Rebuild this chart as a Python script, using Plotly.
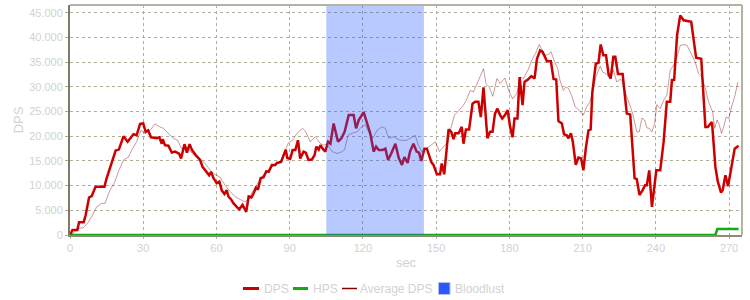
import plotly.graph_objects as go

# ---- data ----
dps_t = [0, 1, 3, 3.7, 5.6, 6.4, 7.8, 8.9, 10.5, 14.1, 15, 17, 18.7, 20, 21.9, 23.6, 26, 27.3, 28.7, 30,
         31, 32, 33.2, 35.5, 36.6, 37.6, 38, 38.9, 40.3, 41.7, 43, 44.7, 45.5, 46.9, 47.9, 49, 50, 51.5,
         52.6, 53.3, 54.3, 56.1, 57, 57.8, 58.8, 60.1, 61.2, 62.2, 63.3, 64.2, 64.9, 66, 67, 68.3, 69.3,
         70.7, 72.2, 73.2, 74.3, 75.2, 76.2, 77, 78.1, 79.3, 80.4, 81.4, 82.7, 84.1, 84.8, 86.5, 87.5,
         88.4, 89, 90.2, 91.2, 92.3, 93.4, 94.3, 95.7, 96.6, 97.7, 99.1, 100.2, 100.9, 101.9, 102.6,
         103.5, 104.6, 105.7, 106.7, 108, 109, 109.8, 111.2, 112.5, 114.2, 116.2, 117.2, 118.3, 120.3,
         121.7, 123, 124.4, 125.4, 126.5, 128.1, 129.2, 130.3, 131.6, 133.3, 134.7, 136, 137, 138.3,
         139.3, 140.7, 142, 143, 143.9, 145.2, 146.2, 148, 148.9, 150.3, 151.6, 152.3, 153.3, 155.1,
         156.2, 157.1, 157.8, 159.2, 160.5, 161.2, 162.2, 163.5, 164.9, 166, 167.3, 168.3, 169.4, 170.3,
         171, 172.1, 173.1, 174.1, 175.1, 176.2, 177.1, 178.2, 179.3, 180.3, 181.3, 182.1, 183.3, 184.2,
         185.4, 186.2, 187.6, 189, 190.3, 191.3, 192.6, 193.6, 195.4, 197, 198.1, 199.2, 200.1, 201.5,
         202.4, 203.5, 204.2, 205.2, 206, 207.2, 208.3, 209.4, 210.3, 211.3, 212.4, 213.3, 214, 215.4,
         216.5, 217.4, 218.5, 219.6, 220.6, 221.5, 222.6, 223.4, 224.5, 226.4, 228.1, 229.5, 231.3,
         232.2, 233.3, 234.6, 235.6, 236.3, 237.3, 238.4, 240.2, 241.8, 243.2, 244.5, 245.9, 246.6,
         247.5, 248.7, 250, 251.4, 252.8, 254.5, 256.5, 258.6, 260.3, 261.3, 263, 264.4, 265.4, 266.7,
         267.4, 268.5, 269.6, 270.9, 272.3, 273.9]
dps_v = [0, 1000, 1000, 2600, 2600, 4000, 7600, 7900, 9800, 9800, 11500, 14800, 17100, 17300, 20000,
         18900, 20400, 20200, 22500, 22600, 20900, 21200, 19800, 19600, 19800, 18500, 19400, 18200,
         18100, 16700, 16900, 16500, 15500, 18400, 16700, 18400, 17200, 16200, 15700, 15200, 13800,
         12800, 12100, 12800, 11500, 10500, 10800, 9000, 8300, 9100, 7800, 7200, 6400, 5700, 5200,
         6100, 4700, 7800, 7600, 8400, 9600, 9200, 11500, 11700, 12900, 12800, 14200, 14200, 14600,
         14800, 16000, 17300, 15600, 15400, 17200, 17200, 19200, 15500, 16900, 16700, 15200, 15300,
         16200, 17900, 17300, 18200, 17500, 16900, 18900, 18500, 22600, 20700, 18900, 19600, 20900,
         24300, 24300, 21600, 23300, 24900, 22900, 20600, 16900, 17900, 17200, 17200, 17500, 15200,
         16500, 18500, 15600, 14200, 15800, 14600, 16900, 18500, 16900, 16700, 15000, 17500, 17500,
         14800, 14200, 12300, 12300, 14500, 12300, 21400, 20900, 19400, 20600, 20600, 21900, 18500,
         21400, 21400, 26600, 27000, 27000, 23900, 29900, 23900, 19600, 20900, 20900, 24600, 25600,
         24300, 23600, 24300, 25300, 21900, 19800, 23600, 23600, 32000, 26300, 31000, 31500, 32200,
         31700, 35700, 37400, 37100, 35200, 35200, 31600, 31500, 23100, 22600, 20400, 20200, 19600,
         20600, 18900, 14200, 15700, 15500, 13100, 17500, 21200, 21400, 29000, 34700, 34900, 38600,
         36400, 36400, 32700, 31700, 36100, 36100, 32600, 32600, 24600, 24400, 11500, 11300, 8100,
         9100, 10100, 10100, 13100, 5700, 13100, 13100, 18900, 27000, 27000, 31400, 31400, 40500,
         44500, 43500, 43400, 43200, 35900, 35700, 21900, 21900, 22900, 13800, 10800, 8600, 9100,
         12100, 9900, 13800, 17500, 18100]

avg_t = [0, 1.6, 3.4, 5.5, 7.2, 8.9, 10.9, 13, 14.3, 16.4, 18.4, 19.8, 21.9, 23.9, 25.3, 27.3, 29.1,
         30.7, 32.8, 34.8, 36.9, 38.3, 40.3, 42.3, 44.1, 45.7, 47.9, 50.6, 53.3, 55.4, 57.4, 59.4, 61.5,
         63.5, 65.6, 67.6, 69.7, 71.7, 72.8, 74.4, 76.5, 78.5, 80.6, 82.7, 84.8, 86.5, 88.2, 89.5, 91.2,
         93, 95.3, 96.6, 98.4, 100.5, 102.6, 104, 105.3, 107.4, 109.4, 111.5, 112.5, 113.9, 115.5,
         117.6, 119.6, 121, 122.3, 124, 125.8, 127.8, 129.2, 130.6, 132.6, 135.2, 137.9, 139.3, 141.4,
         142.7, 144.1, 146.2, 148, 149.6, 151.4, 153, 154.4, 155.7, 157.5, 159.5, 161.2, 162.6, 164,
         165.3, 166.7, 168, 169.4, 170.4, 171.7, 173.2, 174.9, 176.2, 178.2, 179.7, 181.3, 183.1, 184.4,
         185.8, 187.6, 189.2, 191, 192.2, 193.6, 194.7, 196, 197.1, 198.5, 199.8, 200.7, 202.1, 203.2,
         204.2, 205.5, 206.9, 208.5, 210.3, 211.7, 213, 214.4, 215.4, 217.2, 218.2, 219.6, 221.2, 222.6,
         224, 225.3, 226.1, 227.4, 228.8, 230.2, 231.3, 232.2, 233.2, 234.3, 235.4, 236.3, 237.4, 238.4,
         239.5, 240.4, 241.8, 243.2, 244.5, 245.9, 247.3, 248.7, 250, 251.4, 252.8, 254.5, 256.1, 257.5,
         258.9, 260.3, 261.6, 263.3, 264.1, 265.1, 266, 266.9, 267.8, 268.8, 269.9, 271.2, 272.3, 273.6]
avg_v = [0, 500, 1300, 1500, 2400, 3700, 5700, 6400, 6400, 9100, 10800, 12800, 15200, 15800, 17200,
         18900, 21200, 20600, 21200, 22500, 21900, 21600, 20600, 19600, 19200, 17500, 17900, 16200,
         15200, 14500, 13100, 12300, 11700, 10100, 8800, 7800, 7200, 6700, 7100, 8400, 10100, 11800,
         12800, 13800, 14500, 15200, 17200, 18700, 19200, 20600, 21600, 20900, 18900, 19900, 18500,
         18200, 18500, 16900, 16500, 16900, 17300, 20200, 20600, 20900, 22000, 22300, 20900, 19600,
         21200, 21900, 21600, 19600, 19900, 19200, 19200, 19600, 20200, 18200, 16900, 17500, 18200,
         18900, 16900, 17900, 18500, 20900, 24300, 25300, 26300, 27600, 29300, 29000, 30700, 32000,
         33700, 30700, 30000, 28100, 31700, 30700, 31800, 29300, 27600, 28700, 32000, 31700, 33400,
         35400, 37100, 38600, 37300, 36400, 36600, 37100, 35100, 33700, 31400, 29300, 30000, 29700,
         28300, 26000, 25300, 24300, 26000, 27000, 29700, 32000, 34200, 33000, 32700, 31700, 33400,
         31000, 31500, 31400, 29000, 27000, 25100, 22900, 20900, 20900, 23700, 23300, 21700, 21600,
         20900, 22600, 26400, 25600, 27300, 28300, 33400, 34400, 36100, 38400, 38600, 38400, 36700,
         35100, 32700, 32000, 29700, 27000, 24900, 21600, 23300, 22300, 20600, 21900, 23900, 23600,
         26300, 28000, 31000]

hps_t = [0, 264.4, 265.2, 273.9]
hps_v = [0, 0, 1200, 1200]

bloodlust_start = 105
bloodlust_end = 145

x_ticks = [0, 30, 60, 90, 120, 150, 180, 210, 240, 270]
y_ticks = [0, 5000, 10000, 15000, 20000, 25000, 30000, 35000, 40000, 45000]

legend_names = ["DPS", "HPS", "Average DPS", "Bloodlust"]

# ---- styles ----
FONT = "Liberation Sans, Arial, sans-serif"
TXT = "#d2d2d2"
GRID = "#b2ad9a"
RED = "rgb(204,0,0)"
GREEN = "rgb(20,170,20)"
AVG = "rgb(128,0,0)"
BLUE = "rgb(40,90,255)"

W, H = 750, 300
ML, MR, MT, MB = 70, 8, 5, 65
PW, PH = W - ML - MR, H - MT - MB


def px(xp):
    return (xp - ML) / PW


def py(yp):
    return (H - MB - yp) / PH


fig = go.Figure()
fig.add_trace(go.Scatter(x=dps_t, y=dps_v, mode="lines", name=legend_names[0],
                         line=dict(color=RED, width=2.5)))
fig.add_trace(go.Scatter(x=hps_t, y=hps_v, mode="lines", name=legend_names[1],
                         line=dict(color=GREEN, width=2.5), cliponaxis=False))
fig.add_trace(go.Scatter(x=avg_t, y=avg_v, mode="lines", name=legend_names[2],
                         line=dict(color="rgba(128,0,0,0.4)", width=1)))

fig.add_shape(type="rect", xref="x", yref="paper", x0=bloodlust_start, x1=bloodlust_end,
              y0=0, y1=1, fillcolor="rgba(40,90,255,0.33)", line=dict(width=0), layer="above")
# frame: top and right
fig.add_shape(type="line", xref="paper", yref="paper", x0=0, x1=1, y0=1, y1=1,
              line=dict(color="#b5b3a4", width=2), layer="above")
fig.add_shape(type="line", xref="paper", yref="paper", x0=1, x1=1, y0=0, y1=1,
              line=dict(color="#b5b3a4", width=2), layer="above")

# ---- legend (drawn below the plot) ----
LY = 288.5
leg_items = [
    ("line", RED, 3, 243, 259, 262.5, legend_names[0]),
    ("line", GREEN, 3, 293, 308, 311.5, legend_names[1]),
    ("line", AVG, 1.5, 342, 357, 359, legend_names[2]),
    ("square", BLUE, 0, 438.5, 450, 453.5, legend_names[3]),
]
for kind, col, lw, x0, x1, xt, label in leg_items:
    if kind == "line":
        fig.add_shape(type="line", xref="paper", yref="paper", x0=px(x0), x1=px(x1),
                      y0=py(LY), y1=py(LY), line=dict(color=col, width=lw))
    else:
        fig.add_shape(type="rect", xref="paper", yref="paper", x0=px(x0), x1=px(x1),
                      y0=py(LY - 6), y1=py(LY + 6), fillcolor=col,
                      line=dict(color="rgba(180,190,230,1)", width=1))
    fig.add_annotation(xref="paper", yref="paper", x=px(xt), y=py(LY), text=label,
                       showarrow=False, xanchor="left", yanchor="middle",
                       font=dict(family=FONT, size=12, color=TXT), borderpad=0)

fig.update_layout(
    width=W, height=H,
    margin=dict(l=ML, r=MR, t=MT, b=MB, autoexpand=False),
    paper_bgcolor="white", plot_bgcolor="white",
    separators=",.",
    font=dict(family=FONT, size=11, color=TXT),
    showlegend=False,
    xaxis=dict(range=[0, 275.3], tickvals=x_ticks, showgrid=True, gridcolor=GRID,
               griddash="3px,3px", gridwidth=1, zeroline=False, showline=True,
               linecolor="#8d8b7a", linewidth=2, ticks="outside", ticklen=2, tickcolor=GRID,
               tickfont=dict(size=11, color=TXT), layer="below traces", automargin=False,
               title=dict(text="sec", font=dict(size=13, color=TXT), standoff=5)),
    yaxis=dict(range=[0, 46600], tickvals=y_ticks, tickformat=",d", showgrid=True,
               gridcolor=GRID, griddash="3px,3px", gridwidth=1, zeroline=False, showline=True,
               linecolor="#7d7b68", linewidth=2, ticks="outside", ticklen=3, tickcolor=GRID,
               tickfont=dict(size=11, color=TXT), layer="below traces", automargin=False,
               title=dict(text="DPS", font=dict(size=13, color=TXT), standoff=3)),
)

fig.write_html("out.html")
